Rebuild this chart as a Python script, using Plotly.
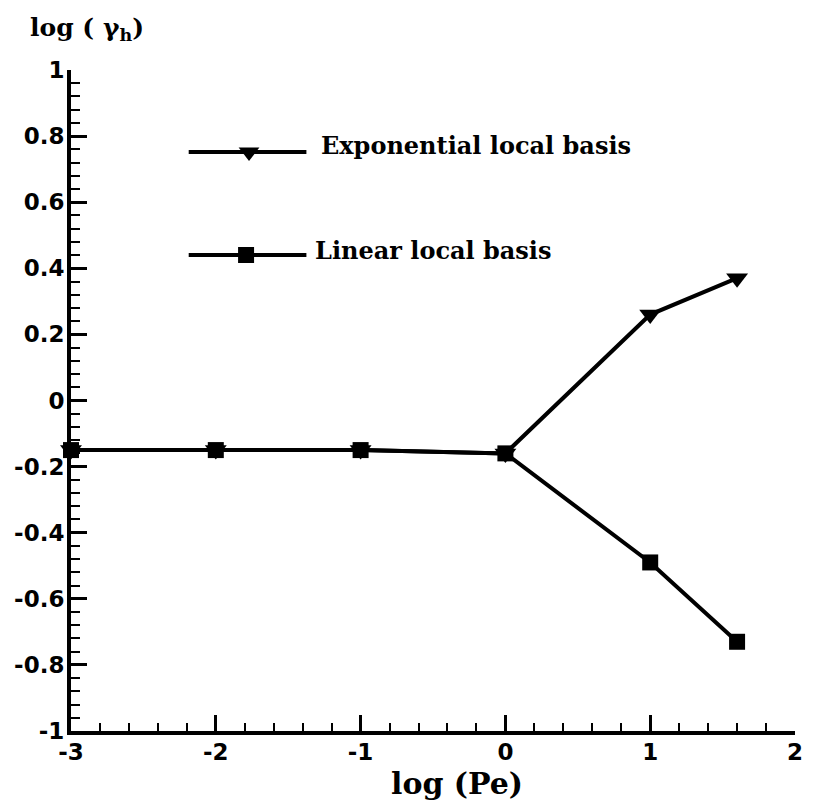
import plotly.graph_objects as go

# log10 of Peclet number at which gamma_h was evaluated
log_pe = [-3, -2, -1, 0, 1, 1.6]
# log10(gamma_h) for each local basis
exp_basis = [-0.15, -0.15, -0.15, -0.16, 0.26, 0.37]
lin_basis = [-0.15, -0.15, -0.15, -0.16, -0.49, -0.73]

series_names = ["Exponential local basis", "Linear local basis"]

x_ticks = [-3, -2, -1, 0, 1, 2]
x_ticktext = ["-3", "-2", "-1", "0", "1", "2"]
y_ticks = [-1, -0.8, -0.6, -0.4, -0.2, 0, 0.2, 0.4, 0.6, 0.8, 1]
y_ticktext = ["-1", "-0.8", "-0.6", "-0.4", "-0.2", "0", "0.2", "0.4", "0.6", "0.8", "1"]

INK = "black"
SERIF = "DejaVu Serif, serif"
SANS = "DejaVu Sans, sans-serif"

# page geometry (pixels)
W, H = 813, 806
L, R, T, B = 71, 10, 70, 75
PW, PH = W - L - R, H - T - B


def px_x(x):
    return (x - L) / PW


def px_y(y):
    return (H - B - y) / PH


fig = go.Figure()

fig.add_trace(go.Scatter(
    x=log_pe, y=exp_basis, mode="lines+markers", name=series_names[0],
    line=dict(color=INK, width=4),
    marker=dict(symbol="triangle-down", size=19, color=INK),
    cliponaxis=False, showlegend=False,
))
fig.add_trace(go.Scatter(
    x=log_pe, y=lin_basis, mode="lines+markers", name=series_names[1],
    line=dict(color=INK, width=4),
    marker=dict(symbol="square", size=16, color=INK),
    cliponaxis=False, showlegend=False,
))

# Key: a long line with the series symbol in its middle, drawn on an overlay axis spanning [0, 1]
key_rows = [
    # line y, marker symbol, marker size, marker x, label, label x, label y
    (152, "triangle-down", 18, 251, series_names[0], 322, 145),
    (255, "square", 16, 248, series_names[1], 316, 250),
]
for ly, sym, sz, mx, label, tx, ty in key_rows:
    fig.add_trace(go.Scatter(
        x=[px_x(190), px_x(309)], y=[px_y(ly)] * 2, mode="lines",
        xaxis="x2", yaxis="y2", line=dict(color=INK, width=4),
        showlegend=False, hoverinfo="skip", cliponaxis=False,
    ))
    fig.add_trace(go.Scatter(
        x=[px_x(mx)], y=[px_y(ly)], mode="markers",
        xaxis="x2", yaxis="y2",
        marker=dict(symbol=sym, size=sz, color=INK),
        showlegend=False, hoverinfo="skip", cliponaxis=False,
    ))
    fig.add_annotation(
        x=px_x(tx), y=px_y(ty), xref="paper", yref="paper", text=label,
        showarrow=False, xanchor="left", yanchor="middle",
        font=dict(family=SERIF, size=24, color=INK, weight="bold"),
    )

axis_common = dict(
    showline=True, linecolor=INK, linewidth=4,
    ticks="inside", ticklen=16, tickwidth=3, tickcolor=INK,
    showgrid=False, zeroline=False,
    tickfont=dict(family=SANS, size=23, color=INK, weight="bold"),
)

fig.update_layout(
    width=W, height=H,
    margin=dict(l=L, r=R, t=T, b=B),
    paper_bgcolor="white", plot_bgcolor="white",
    xaxis=dict(
        range=[-3, 2], tickvals=x_ticks, ticktext=x_ticktext,
        ticklabelstandoff=-3,
        minor=dict(dtick=0.2, tick0=0, ticks="inside", ticklen=8, tickwidth=2, tickcolor=INK),
        **axis_common,
    ),
    yaxis=dict(
        range=[-1, 1], tickvals=y_ticks, ticktext=y_ticktext,
        ticklabelstandoff=-2,
        minor=dict(dtick=0.04, tick0=0, ticks="inside", ticklen=9, tickwidth=2, tickcolor=INK),
        **axis_common,
    ),
    xaxis2=dict(range=[0, 1], overlaying="x", visible=False, fixedrange=True),
    yaxis2=dict(range=[0, 1], overlaying="y", visible=False, fixedrange=True),
)

# axis titles
fig.add_annotation(
    x=px_x(461), y=px_y(783), xref="paper", yref="paper", text="log (Pe)",
    showarrow=False, xanchor="center", yanchor="middle",
    font=dict(family=SERIF, size=30, color=INK, weight="bold"),
)
fig.add_annotation(
    x=px_x(28), y=px_y(29), xref="paper", yref="paper",
    text="log ( \u03b3<sub>h</sub>)", showarrow=False,
    xanchor="left", yanchor="middle",
    font=dict(family=SERIF, size=25, color=INK, weight="bold"),
)

fig.write_html("out.html")
